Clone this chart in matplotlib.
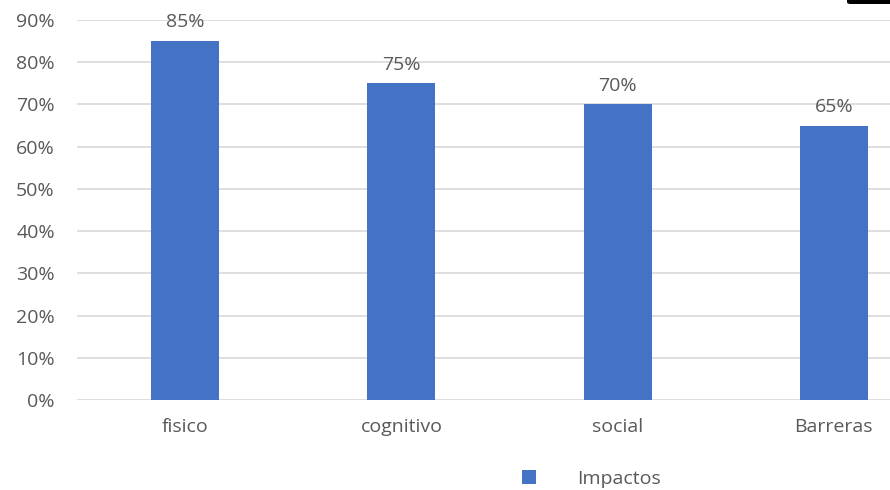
import matplotlib
matplotlib.use('Agg')
from matplotlib import pyplot as plt
from matplotlib.patches import FancyBboxPatch
from matplotlib.ticker import FuncFormatter

categorias = ['fisico', 'cognitivo', 'social', 'Barreras']
impactos = [0.85, 0.75, 0.70, 0.65]
yticks = [0, 0.1, 0.2, 0.3, 0.4, 0.5, 0.6, 0.7, 0.8, 0.9]

plt.rcParams['font.family'] = ['Open Sans', 'DejaVu Sans']
gris = '#595959'
azul = '#4472C4'
fs = 14

fig = plt.figure(figsize=(8.9, 4.9), dpi=100)
ax = fig.add_axes([77/890, 1-400/490, 865/890, 380/490])

x = range(len(categorias))
barras = ax.bar(x, impactos, width=0.315, color=azul, label='Impactos', zorder=3)

for xi, v in zip(x, impactos):
    ax.annotate('{:.0f}%'.format(v*100), (xi, v), xytext=(0, 7), textcoords='offset points',
                ha='center', va='bottom', fontsize=fs, color=gris)

ax.set_xlim(-0.5, 3.5)
ax.set_ylim(0, 0.9)
ax.set_yticks(yticks)
ax.yaxis.set_major_formatter(FuncFormatter(lambda v, p: '{:.0f}%'.format(v*100)))
ax.set_xticks(list(x))
ax.set_xticklabels(categorias)
ax.tick_params(axis='both', length=0, labelsize=fs, labelcolor=gris)
ax.tick_params(axis='x', pad=13)
ax.tick_params(axis='y', pad=16)
ax.grid(axis='y', color='#d9d9d9', linewidth=1.2, zorder=0)
for s in ax.spines.values():
    s.set_visible(False)

fig.legend(handles=[barras], labels=['Impactos'], loc='center left', bbox_to_anchor=(504/890, 1-479/490),
           frameon=False, fontsize=fs, labelcolor=gris, handlelength=0.75, handleheight=0.7,
           handletextpad=2.1)

# marca negra en la esquina superior derecha
fig.patches.append(FancyBboxPatch((847/890, 1-4/490), 50/890, 10/490, boxstyle='round,pad=0,rounding_size=0.004',
                                  transform=fig.transFigure, facecolor='black', edgecolor='none'))

fig.savefig('out.png', dpi=100)
